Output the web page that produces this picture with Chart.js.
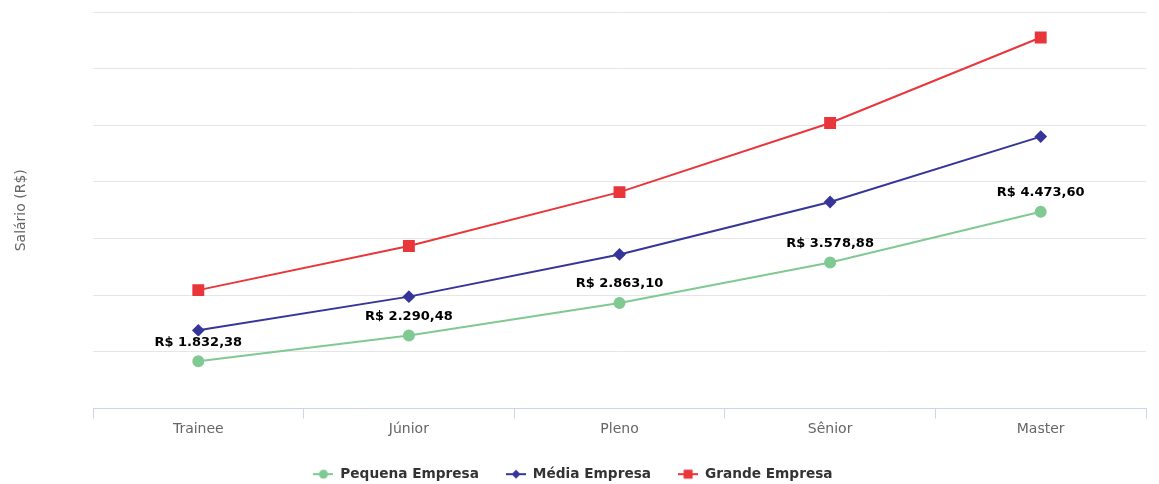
<!DOCTYPE html>
<html>
<head>
<meta charset="utf-8">
<script src="https://cdn.jsdelivr.net/npm/chart.js@4/dist/chart.umd.min.js"></script>
<style>
  html, body { margin: 0; padding: 0; background: #fff; }
  #wrap { width: 1159px; height: 484px; }
</style>
</head>
<body>
<div id="wrap"><canvas id="c" width="1159" height="484"></canvas></div>
<script>
// Career levels and average salaries (R$) by company size
const categories = ['Trainee', 'Júnior', 'Pleno', 'Sênior', 'Master'];
const pequenaEmpresa = [1832.38, 2290.48, 2863.10, 3578.88, 4473.60];
const mediaEmpresa = [2380, 2975, 3720, 4645, 5800];
const grandeEmpresa = [3090, 3870, 4820, 6040, 7550];
const yTicks = [1000, 2000, 3000, 4000, 5000, 6000, 7000, 8000];

const GREEN = '#80c993';
const BLUE = '#35359a';
const RED = '#e8363b';
const FONT = '"DejaVu Sans", "Liberation Sans", sans-serif';
const BOTTOM_PAD = -7;

function brl(v) {
  const parts = v.toFixed(2).split('.');
  const int = parts[0].replace(/\B(?=(\d{3})+(?!\d))/g, '.');
  return 'R$ ' + int + ',' + parts[1];
}

// Legend symbol: a short line with the series marker in the middle
function legendSymbol(color, shape) {
  const cv = document.createElement('canvas');
  cv.width = 20; cv.height = 12;
  const g = cv.getContext('2d');
  g.strokeStyle = color; g.fillStyle = color; g.lineWidth = 2;
  g.beginPath(); g.moveTo(0, 6); g.lineTo(20, 6); g.stroke();
  g.beginPath();
  if (shape === 'circle') g.arc(10, 6, 4.5, 0, Math.PI * 2);
  else if (shape === 'diamond') { g.moveTo(10, 1.5); g.lineTo(14.5, 6); g.lineTo(10, 10.5); g.lineTo(5.5, 6); g.closePath(); }
  else g.rect(5.5, 1.5, 9, 9);
  g.fill();
  return cv;
}

// Value labels above the points of the first series
const valueLabels = {
  id: 'valueLabels',
  afterDatasetsDraw(chart) {
    const meta = chart.getDatasetMeta(0);
    const data = chart.data.datasets[0].data;
    const ctx = chart.ctx;
    ctx.save();
    ctx.font = 'bold 13px ' + FONT;
    ctx.textAlign = 'center';
    ctx.textBaseline = 'middle';
    ctx.lineJoin = 'round';
    ctx.lineWidth = 2.5;
    ctx.strokeStyle = '#ffffff';
    ctx.fillStyle = '#000000';
    meta.data.forEach((pt, i) => {
      const t = brl(data[i]);
      ctx.strokeText(t, pt.x, pt.y - 19);
      ctx.fillText(t, pt.x, pt.y - 19);
    });
    ctx.restore();
  }
};

const symbols = [legendSymbol(GREEN, 'circle'), legendSymbol(BLUE, 'diamond'), legendSymbol(RED, 'square')];

new Chart(document.getElementById('c'), {
  type: 'line',
  data: {
    labels: categories,
    datasets: [
      { label: 'Pequena Empresa', data: pequenaEmpresa, borderColor: GREEN, backgroundColor: GREEN,
        pointStyle: 'circle', pointRadius: 5, pointHoverRadius: 5, borderWidth: 2 },
      { label: 'Média Empresa', data: mediaEmpresa, borderColor: BLUE, backgroundColor: BLUE,
        pointStyle: 'rectRot', pointRadius: 5, pointHoverRadius: 5, borderWidth: 2 },
      { label: 'Grande Empresa', data: grandeEmpresa, borderColor: RED, backgroundColor: RED,
        pointStyle: 'rect', pointRadius: 7, pointHoverRadius: 7, borderWidth: 2 }
    ]
  },
  options: {
    responsive: false,
    animation: false,
    events: [],
    layout: { padding: { top: 12, right: 13, left: 0, bottom: BOTTOM_PAD } },
    elements: { line: { tension: 0 }, point: { borderWidth: 0 } },
    scales: {
      x: {
        offset: true,
        grid: { offset: true, drawOnChartArea: false, drawTicks: true, tickLength: 10, color: '#ccd6eb' },
        border: { display: true, color: '#ccd6eb', width: 1 },
        ticks: { color: '#666666', font: { family: FONT, size: 14 }, padding: 2, autoSkip: false, maxRotation: 0 },
        afterFit(scale) {
          const lg = scale.chart.legend;
          scale.height = scale.chart.height - 408.5 - (lg ? lg.height : 0) - BOTTOM_PAD;
        }
      },
      y: {
        min: yTicks[0],
        max: yTicks[yTicks.length - 1],
        afterBuildTicks(scale) { scale.ticks = yTicks.map(v => ({ value: v })); },
        ticks: { display: false },
        grid: { color: '#e6e6e6', drawTicks: false, lineWidth: 1 },
        border: { display: false },
        title: { display: true, text: 'Salário (R$)', color: '#666666',
                 font: { family: FONT, size: 14 }, padding: { top: 12.6, bottom: 0 } },
        afterFit(scale) { scale.width = 93; }
      }
    },
    plugins: {
      tooltip: { enabled: false },
      legend: {
        position: 'bottom',
        labels: {
          usePointStyle: true,
          pointStyleWidth: 20,
          padding: 27,
          color: '#333333',
          font: { family: FONT, size: 13.7, weight: 'bold' },
          generateLabels(chart) {
            return chart.data.datasets.map((ds, i) => ({
              text: ds.label, pointStyle: symbols[i], fillStyle: ds.borderColor,
              strokeStyle: ds.borderColor, lineWidth: 0, hidden: false, datasetIndex: i,
              fontColor: '#333333'
            }));
          }
        }
      }
    }
  },
  plugins: [valueLabels]
});
</script>
</body>
</html>
